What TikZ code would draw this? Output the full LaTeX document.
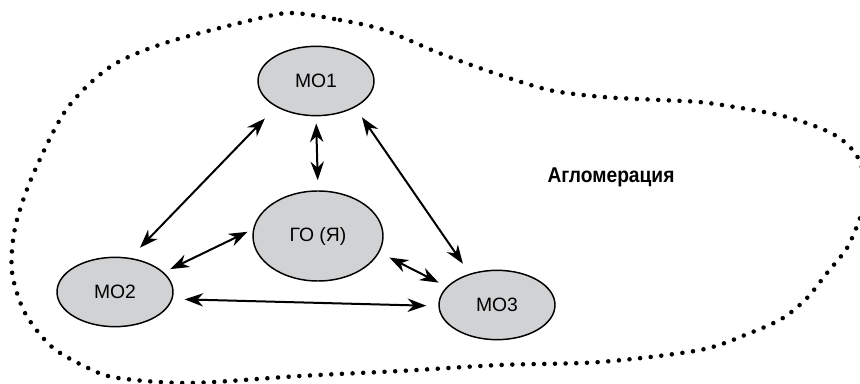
\documentclass[tikz,border=0pt]{standalone}
\usepackage{fontspec}
\setmainfont{Liberation Sans}
\newfontfamily\aglfont[FakeStretch=0.9]{Liberation Sans}
\usetikzlibrary{shapes.geometric, arrows.meta}

\definecolor{mogray}{RGB}{209,210,212}

\begin{document}
\begin{tikzpicture}[
    x=0.75pt, y=-0.75pt,
    mo/.style      = {ellipse, draw=black, fill=mogray, line width=1.1pt, inner sep=0pt,
                      minimum width=87pt, minimum height=52pt, font=\fontsize{14.5}{17}\selectfont},
    centr/.style   = {mo, minimum width=97.5pt, minimum height=67.5pt},
    link/.style    = {{Stealth[length=14pt, width=10pt, inset=4.5pt]}-{Stealth[length=14pt, width=10pt, inset=4.5pt]},
                      line width=1.5pt, black},
    granica/.style = {line width=3.4pt, line cap=round, dash pattern=on 0pt off 8pt},
    metka/.style   = {font=\aglfont\bfseries\fontsize{16}{19}\selectfont, anchor=base},
]
\useasboundingbox (0,0) rectangle (860,384);

% Граница агломерации
\draw[granica] plot[smooth cycle] coordinates {
    (291,13) (340,20) (384,30) (439,53) (494,73) (549,90) (603,97) (660,100)
    (708,103) (783,116) (833,134) (857,156) (867,190) (860,218) (847,248)
    (827,273) (807,298) (783,318) (750,333) (700,350) (600,362) (500,365)
    (400,371) (300,376) (190,383) (118,378) (88,368) (52,347) (25,313)
    (12,272) (15,228) (32,177) (66,110) (110,67) (165,43) (252,20)};

% Муниципальные образования
\node[mo] (m1) at (316,81)  {МО1};
\node[mo] (m2) at (115,292) {МО2};
\node[mo] (m3) at (497,305) {МО3};

% Городской округ
\node[centr] (go) at (318,236) {ГО (Я)};

% Подпись
\node[metka] (agl) at (611,183) {Агломерация};

% Связи
\draw[link, shorten <=12pt, shorten >=10.5pt] (m1.213) -- (m2.66);
\draw[link, shorten <=5.25pt, shorten >=7.5pt] (m1.south) -- (go.north);
\draw[link, shorten <=9pt, shorten >=9pt] (m1.326) -- (m3.131);
\draw[link, shorten <=4.5pt, shorten >=5.5pt] (go.174) -- (m2.22);
\draw[link, shorten <=8.5pt, shorten >=6.75pt] (go.345) -- (m3.160);
\draw[link, shorten <=9pt, shorten >=9pt] (m2.353) -- (m3.181);

\end{tikzpicture}
\end{document}
